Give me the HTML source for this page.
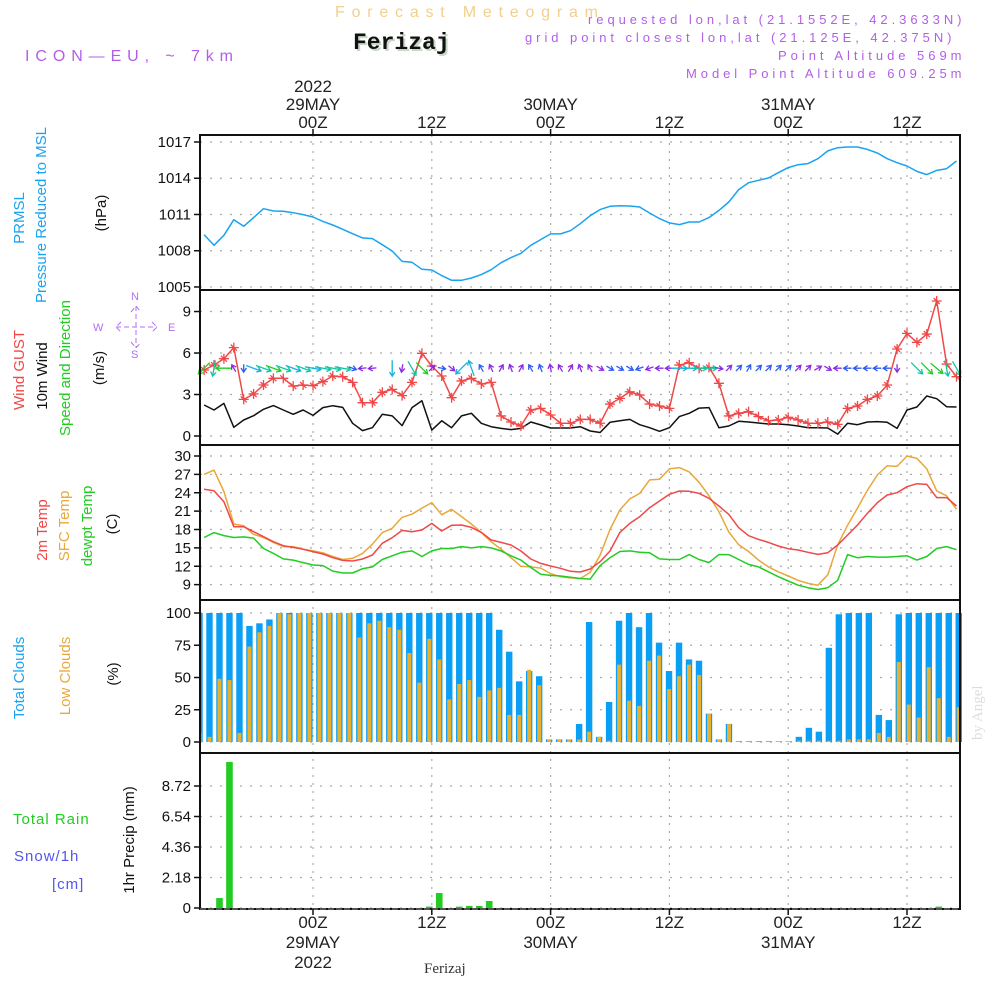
<!DOCTYPE html>
<html><head><meta charset="utf-8">
<style>
html,body{margin:0;padding:0;background:#fff;}
svg{display:block;}
text{font-family:"Liberation Sans Narrow","Liberation Sans",sans-serif;}
.tk{font-size:15px;fill:#111;text-anchor:end;}
.ax{font-size:17px;fill:#222;text-anchor:middle;}
.lab{font-size:15px;text-anchor:middle;}
.hdr{font-family:"Liberation Sans",sans-serif;font-size:13px;fill:#b25ee8;letter-spacing:1.5px;}
</style></head>
<body>
<svg id="chart" width="1000" height="1000" viewBox="0 0 1000 1000">
<g id="static"></g>
</svg>
<script>
// ===== DATA (hourly, t = hours from 29MAY 00Z, starting t=-11) =====
const hours = Array.from({length:77},(_,i)=>i-11);
const pressure = [1009.33,1008.45,1009.28,1010.57,1010.02,1010.74,1011.48,1011.29,1011.26,1011.15,1010.99,1010.79,1010.43,1010.13,1009.77,1009.41,1009.06,1009.0,1008.5,1007.98,1007.12,1007.04,1006.46,1006.4,1005.94,1005.55,1005.55,1005.74,1006.02,1006.43,1007.01,1007.43,1007.79,1008.45,1008.92,1009.39,1009.39,1009.66,1010.24,1010.9,1011.4,1011.68,1011.73,1011.7,1011.62,1011.12,1010.66,1010.3,1010.16,1010.38,1010.38,1010.74,1011.34,1012.03,1013.06,1013.63,1013.83,1014.02,1014.46,1014.88,1015.12,1015.21,1015.62,1016.26,1016.53,1016.59,1016.59,1016.39,1016.09,1015.62,1015.29,1015.01,1014.57,1014.3,1014.65,1014.79,1015.43];
const wind10m = [2.24,1.88,2.36,0.63,1.16,1.47,1.93,2.2,1.88,1.57,1.88,1.49,2.05,2.19,2.07,0.92,0.39,0.6,1.57,1.45,0.75,2.05,2.55,0.43,1.1,0.6,1.45,1.64,0.92,0.67,0.55,0.46,0.55,1.01,0.8,0.58,0.58,0.58,0.67,0.36,0.25,0.99,1.1,1.2,0.82,0.6,0.34,0.6,1.4,1.64,2.02,2.05,0.6,0.72,1.06,1.01,0.94,0.87,0.87,0.82,0.72,0.6,0.6,0.58,0.14,0.92,0.82,1.01,1.04,0.99,0.55,1.88,2.1,2.89,2.7,2.12,2.1];
const gust = [4.77,5.13,5.59,6.39,2.65,3.04,3.69,4.17,4.17,3.61,3.69,3.64,3.93,4.34,4.29,3.88,2.41,2.41,3.16,3.37,2.92,3.88,5.98,5.06,4.34,2.77,3.98,4.17,3.76,3.88,1.45,1.01,0.72,1.88,2.0,1.52,0.92,0.92,1.2,1.2,0.92,2.31,2.72,3.2,2.96,2.31,2.17,2.0,5.13,5.3,4.89,4.96,3.81,1.45,1.64,1.76,1.4,1.1,1.16,1.35,1.16,0.92,0.92,1.01,0.84,2.0,2.17,2.65,2.89,3.69,6.29,7.42,6.77,7.37,9.76,5.2,4.29];
// wind arrow screen direction (deg, 0 = pointing right, 90 = pointing down); null = no arrow
const windDir = [135,100,180,240,90,20,20,20,20,20,20,10,10,10,10,20,175,175,null,90,100,60,45,-45,10,40,135,-110,-120,-115,-60,-110,-60,-120,-110,-100,-120,-60,-110,-120,30,30,30,30,160,160,180,180,0,0,0,0,10,-45,-45,-60,-45,-45,-45,-45,-45,-45,-30,30,180,180,180,180,180,180,90,null,45,45,40,80,60];
const temp2m = [24.56,24.34,22.54,18.46,18.46,17.64,16.83,16.01,15.36,15.08,14.76,14.38,14.0,13.4,12.96,12.85,13.18,13.83,15.74,16.66,17.86,17.64,17.92,19.0,17.75,18.68,18.73,18.35,17.53,16.28,15.9,15.47,14.49,13.18,12.47,12.04,11.66,11.17,11.06,11.55,12.74,14.49,17.53,19.0,20.09,21.56,22.65,23.74,24.28,24.23,23.9,23.09,21.83,20.47,18.3,16.99,16.39,15.9,15.3,14.87,14.65,14.27,13.94,14.21,15.47,17.1,18.73,20.64,22.38,23.63,24.01,24.99,25.48,25.37,23.2,23.2,21.83];
const tempSfc = [27.0,27.7,24.2,18.9,18.6,17.2,16.7,15.9,15.2,15.2,14.8,14.5,14.2,13.6,13.1,13.3,14.1,15.6,17.5,18.2,20.0,20.5,21.5,22.4,20.4,21.3,20.1,18.9,17.5,16.0,14.8,13.4,12.0,11.9,11.7,10.8,10.3,10.1,10.0,11.0,13.8,18.0,21.2,23.0,23.9,26.1,26.2,27.9,28.1,27.4,25.7,23.5,20.9,17.6,15.5,14.4,13.0,11.9,11.1,10.4,9.7,9.2,8.9,10.6,15.5,18.7,21.5,24.4,26.9,28.4,28.3,30.0,29.6,27.9,24.3,23.5,21.3];
const dewpt = [16.7,17.5,17.0,16.7,16.8,16.6,14.9,14.1,13.2,13.0,12.6,12.2,12.1,11.2,10.9,10.9,11.6,11.9,13.1,13.7,14.3,14.5,13.6,14.5,14.9,14.9,15.2,15.0,15.2,15.0,14.5,13.7,13.0,11.8,10.7,10.5,10.4,10.2,10.0,9.9,12.1,13.4,14.4,14.5,14.3,14.2,13.2,13.1,13.1,13.9,13.1,12.6,13.9,13.9,13.1,12.3,11.9,11.1,10.3,9.6,8.9,8.5,8.2,8.5,9.7,13.9,13.4,13.6,13.5,13.5,13.6,13.7,13.0,13.6,14.9,15.2,14.7];
const totalClouds = [100,100,100,100,100,90,92,95,100,100,100,100,100,100,100,100,100,100,100,100,100,100,100,100,100,100,100,100,100,100,87,70,47,55,51,2,2,2,14,93,4,31,94,100,89,100,77,55,77,64,63,22,2,14,0.5,0.5,0.5,0.5,0.5,0.5,4,11,8,73,99,100,100,100,21,17,99,100,100,100,100,100,100];
const lowClouds = [7,4,49,48,7,74,85,90,100,99,100,100,100,100,100,100,81,92,94,89,87,69,46,80,64,33,45,48,35,40,42,21,21,56,44,2,2,2,2,8,4,1,60,32,28,63,67,41,51,60,52,22,2,14,0,0,0,0,0.5,0.5,1,1,1,1,1,2,2,2,7,4,62,29,19,58,34,4,27];
const precip = [0,0,0.71,10.44,0,0,0,0,0,0,0,0,0,0,0,0,0,0,0,0,0,0,0,0.1,1.07,0,0.1,0.15,0.15,0.5,0,0,0,0,0,0,0,0,0,0,0,0,0,0,0,0,0,0,0,0,0,0,0,0,0,0,0,0,0,0,0,0,0,0,0,0,0,0,0,0,0,0,0,0,0.1,0,0];
const pTicks = [1005,1008,1011,1014,1017];
const wTicks = [0,3,6,9];
const tTicks = [9,12,15,18,21,24,27,30];
const cTicks = [0,25,50,75,100];
const rTicks = [0,2.18,4.36,6.54,8.72];
const timeTicks = [0,12,24,36,48,60];

// ===== SCALES =====
const X0=200, X1=960;
const xT = t => 313 + t*9.9;            // line time axis
const xB = i => 199.5 + i*9.99;         // hourly bar slots
const yP = v => 142 + (1017-v)*12.08;
const yW = v => 436 - v*13.83;
const yT = v => 456 + (30-v)*6.125;
const yC = v => 742 - v*1.29;
const yR = v => 908 - v*13.99;
const panels=[[135,290,'pressure-panel'],[290,445,'wind-panel'],[445,600,'temperature-panel'],[600,753,'cloud-panel'],[753,909,'precip-panel']];

const NS='http://www.w3.org/2000/svg';
const svg=document.getElementById('chart');
function mk(tag,attrs,parent){const e=document.createElementNS(NS,tag);for(const k in attrs)e.setAttribute(k,attrs[k]);(parent||svg).appendChild(e);return e;}
function txt(s,attrs,parent){const e=mk('text',attrs,parent);e.textContent=s;return e;}

// header
let g=mk('g',{});


let e;
e=txt('Forecast Meteogram',{x:335,y:17,'font-size':16,fill:'#f3cf8c','textLength':263,style:'font-family:"Liberation Sans",sans-serif'},g);

e=txt('Ferizaj',{x:355,y:51,'font-size':23,'font-weight':'bold',fill:'#c8d8c8',style:'font-family:"Liberation Mono",monospace'},g);

e=txt('Ferizaj',{x:353,y:49,'font-size':23,'font-weight':'bold',fill:'#111',style:'font-family:"Liberation Mono",monospace'},g);

e=txt('ICON—EU, ~ 7km',{x:25,y:61,'font-size':16,fill:'#b25ee8','textLength':208,style:'font-family:"Liberation Sans",sans-serif'},g);

const hdrLines=[['requested lon,lat (21.1552E, 42.3633N)',588,24,375],['grid point closest lon,lat (21.125E, 42.375N)',525,42,428],['Point Altitude 569m',778,60,185],['Model Point Altitude 609.25m',686,78,277]];
hdrLines.forEach(h=>{e=txt(h[0],{x:h[1],y:h[2],class:'hdr',textLength:h[3]},g);
});

// panels grids
const grid=mk('g',{});


function hgrid(ticks,yf,fmt,name){const gg=mk('g',{});
 ticks.forEach(v=>{const y=yf(v);mk('line',{x1:X0,x2:X1,y1:y,y2:y,stroke:'#aaa','stroke-width':1.2,'stroke-dasharray':'2,8'},grid);
  mk('line',{x1:194,x2:X0,y1:y,y2:y,stroke:'#111','stroke-width':1.5},gg);
  const t=txt(fmt(v),{x:191,y:y+5,class:'tk'},gg);});}
hgrid(pTicks,yP,v=>String(v),'pressure-y-axis');
hgrid(wTicks,yW,v=>String(v),'wind-y-axis');
hgrid(tTicks,yT,v=>String(v),'temp-y-axis');
hgrid(cTicks,yC,v=>String(v),'cloud-y-axis');
hgrid(rTicks,yR,v=>v===0?'0':v.toFixed(2),'precip-y-axis');
timeTicks.forEach(t=>{const x=xT(t);mk('line',{x1:x,x2:x,y1:135,y2:909,stroke:'#aaa','stroke-width':1.2,'stroke-dasharray':'2,6'},grid);});

// series: pressure
function poly(vals,xf,yf,color,name,w){const pts=vals.map((v,i)=>xf(hours[i]).toFixed(1)+','+yf(v).toFixed(1)).join(' ');
 const p=mk('polyline',{points:pts,fill:'none',stroke:color,'stroke-width':w||1.5,'stroke-linejoin':'round'});
 return p;}
poly(pressure,xT,yP,'#1aa3f0','pressure-line');
// wind
poly(wind10m,xT,yW,'#111','wind-10m-line');
poly(gust,xT,yW,'#f04848','wind-gust-line');
const gm=mk('g',{stroke:'#f04848','stroke-width':1.3});


gust.forEach((v,i)=>{const x=xT(hours[i]),y=yW(v);
 mk('path',{d:`M${x-5},${y}H${x+5}M${x},${y-5}V${y+5}M${x-3},${y-3}L${x+3},${y+3}`},gm);});
const arrG=mk('g',{});


function spdColor(s){if(s<0.8)return '#8a2be2';if(s<1.3)return '#2f5cf0';if(s<1.8)return '#18b0e0';if(s<2.2)return '#10c8a0';return '#22cc22';}
windDir.forEach((d,i)=>{if(d===null)return;const x=xT(hours[i]),y=yW(4.9);const r=d*Math.PI/180;const L=(wind10m[i]>1.3)?8:4;
 const dx=Math.cos(r),dy=Math.sin(r);const x1=x-dx*L,y1=y-dy*L,x2=x+dx*L,y2=y+dy*L;
 const a1=r+Math.PI*0.82,a2=r-Math.PI*0.82;
 const a=mk('path',{d:`M${x1.toFixed(1)},${y1.toFixed(1)}L${x2.toFixed(1)},${y2.toFixed(1)}M${(x2+Math.cos(a1)*5).toFixed(1)},${(y2+Math.sin(a1)*5).toFixed(1)}L${x2.toFixed(1)},${y2.toFixed(1)}L${(x2+Math.cos(a2)*5).toFixed(1)},${(y2+Math.sin(a2)*5).toFixed(1)}`,stroke:spdColor(wind10m[i]),'stroke-width':1.3,fill:'none'},arrG);
 
 });
// temps
poly(tempSfc,xT,yT,'#e8a83a','sfc-temp-line');
poly(temp2m,xT,yT,'#f04848','temp-2m-line');
poly(dewpt,xT,yT,'#22cc22','dewpoint-line');
// clouds
const cg=mk('g',{});


totalClouds.forEach((v,i)=>{const x=xB(i);const y=yC(v);
 const b=mk('rect',{x:Math.max(X0,x-3.2),y:y,width:Math.min(6.4,x+3.2-X0),height:yC(0)-y,fill:'#0a9ef5'},cg);
 
 const y2=yC(lowClouds[i]);
 const o=mk('rect',{x:Math.max(X0,x-2),y:y2,width:Math.min(4,x+2-X0),height:yC(0)-y2,fill:'#e8b030'},cg);
 });
// precip
const rg=mk('g',{});


precip.forEach((v,i)=>{if(v<=0)return;const x=xB(i),y=yR(v);
 const b=mk('rect',{x:x-3.3,y:y,width:6.6,height:yR(0)-y,fill:'#22cc22'},rg);
 });

// frames
panels.forEach(p=>{const r=mk('rect',{x:X0,y:p[0],width:X1-X0,height:p[1]-p[0],fill:'none',stroke:'#111','stroke-width':2});
 });
mk('line',{x1:X0,x2:X1,y1:909,y2:909,stroke:'#555','stroke-width':2,'stroke-dasharray':'6,2'});

// time axes
const topAx=mk('g',{});


const botAx=mk('g',{});


const tLab=['00Z','12Z','00Z','12Z','00Z','12Z'];
const dLab=['29MAY','','30MAY','','31MAY',''];
timeTicks.forEach((t,i)=>{const x=xT(t);
 mk('line',{x1:x,x2:x,y1:129,y2:135,stroke:'#111','stroke-width':1.5},topAx);
 mk('line',{x1:x,x2:x,y1:909,y2:915,stroke:'#111','stroke-width':1.5},botAx);
 txt(tLab[i],{x:x,y:128,class:'ax'},topAx);
 if(dLab[i])txt(dLab[i],{x:x,y:110,class:'ax'},topAx);
 txt(tLab[i],{x:x,y:928,class:'ax'},botAx);
 if(dLab[i])txt(dLab[i],{x:x,y:948,class:'ax'},botAx);});
txt('2022',{x:xT(0),y:92,class:'ax'},topAx);
txt('2022',{x:xT(0),y:968,class:'ax'},botAx);
e=txt('Ferizaj',{x:424,y:973,'font-size':15,fill:'#333',style:'font-family:"Liberation Serif",serif'});

e=txt('by Angel',{x:0,y:0,'font-size':15,fill:'#ddd',transform:'translate(982,740) rotate(-90)',style:'font-family:"Liberation Serif",serif'});


// left labels (rotated)
function vlab(s,x,y,color,name){const t=txt(s,{x:0,y:0,class:'lab',fill:color,transform:`translate(${x},${y}) rotate(-90)`});
 }
vlab('PRMSL',24,218,'#1aa3f0','pressure-label');
vlab('Pressure Reduced to MSL',46,215,'#1aa3f0','pressure-desc-label');
vlab('(hPa)',106,213,'#111','pressure-unit');
vlab('Wind GUST',24,370,'#f04848','gust-label');
vlab('10m Wind',47,376,'#111','wind-label');
vlab('Speed and Direction',70,368,'#22cc22','wind-desc-label');
vlab('(m/s)',104,368,'#111','wind-unit');
vlab('2m Temp',47,530,'#f04848','temp2m-label');
vlab('SFC Temp',69,526,'#e8a83a','sfc-temp-label');
vlab('dewpt Temp',92,526,'#22cc22','dewpoint-label');
vlab('(C)',117,524,'#111','temp-unit');
vlab('Total Clouds',24,678,'#1aa3f0','total-cloud-label');
vlab('Low Clouds',70,676,'#e8a83a','low-cloud-label');
vlab('(%)',118,674,'#111','cloud-unit');
vlab('1hr Precip (mm)',134,840,'#111','precip-unit');
e=txt('Total   Rain',{x:13,y:824,'font-size':15,fill:'#22cc22',style:'font-family:"Liberation Sans",sans-serif;letter-spacing:1px'});

e=txt('Snow/1h',{x:14,y:861,'font-size':15,fill:'#5555ee',style:'font-family:"Liberation Sans",sans-serif;letter-spacing:1px'});

e=txt('[cm]',{x:52,y:889,'font-size':15,fill:'#5555ee',style:'font-family:"Liberation Sans",sans-serif;letter-spacing:1px'});

// compass
const cp=mk('g',{fill:'#b070f0',stroke:'#b070f0','font-size':11});


mk('path',{d:'M116,327H157M136,306V348M121,322L116,327L121,332M152,322L157,327L152,332M131,312L136,306L141,312M131,342L136,348L141,342','fill':'none','stroke-width':1,'stroke-dasharray':'5,3'},cp);
txt('N',{x:131,y:300,stroke:'none','font-size':11},cp);
txt('S',{x:131,y:358,stroke:'none','font-size':11},cp);
txt('W',{x:93,y:331,stroke:'none','font-size':11},cp);
txt('E',{x:168,y:331,stroke:'none','font-size':11},cp);
</script>
</body></html>
